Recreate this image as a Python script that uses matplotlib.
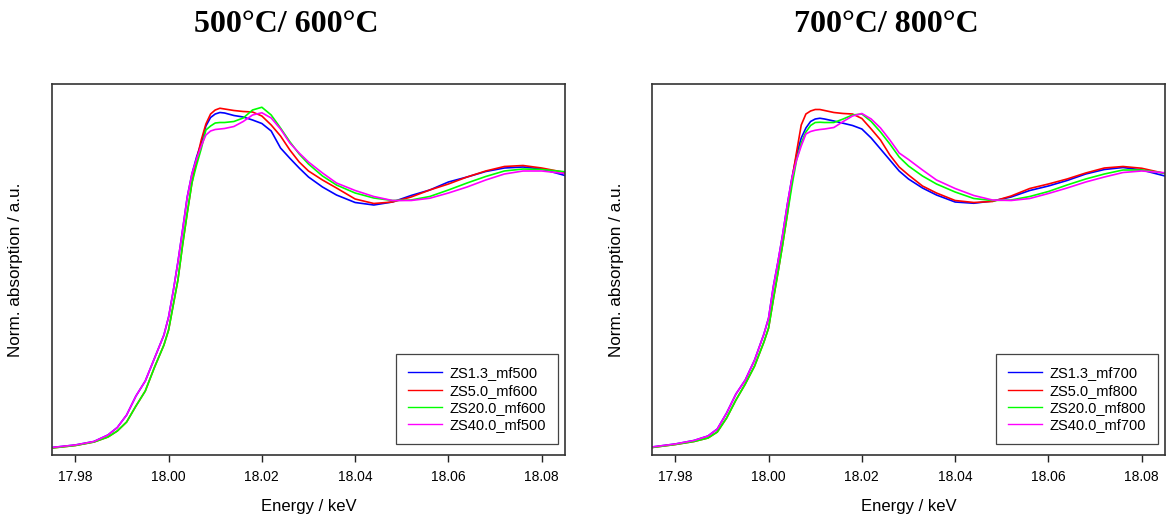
import matplotlib
matplotlib.use("Agg")
import matplotlib.pyplot as plt

plt.rcParams['font.family'] = ['Liberation Sans', 'DejaVu Sans']

energy = [17.975, 17.980, 17.984, 17.987, 17.989, 17.991, 17.993, 17.995, 17.997, 17.999,
          18.000, 18.001, 18.002, 18.003, 18.004, 18.005, 18.006, 18.007, 18.008, 18.009,
          18.010, 18.011, 18.012, 18.014, 18.016, 18.018, 18.020, 18.022, 18.024, 18.026,
          18.028, 18.030, 18.033, 18.036, 18.040, 18.044, 18.048, 18.052, 18.056, 18.060,
          18.064, 18.068, 18.072, 18.076, 18.080, 18.085]

# ---- left panel: 500 C / 600 C ----
zs13_mf500 = [0.000, 0.010, 0.024, 0.050, 0.080, 0.130, 0.206, 0.266, 0.358, 0.450,
              0.522, 0.626, 0.742, 0.870, 1.002, 1.094, 1.162, 1.218,
              1.286, 1.320, 1.334, 1.340, 1.338, 1.328, 1.322, 1.310, 1.296, 1.266,
              1.198, 1.157, 1.118, 1.082, 1.042, 1.010, 0.980, 0.970, 0.982, 1.008,
              1.030, 1.062, 1.082, 1.104, 1.118, 1.122, 1.114, 1.088]
zs50_mf600 = [-0.002, 0.008, 0.022, 0.042, 0.066, 0.102, 0.166, 0.226, 0.322, 0.410,
              0.470, 0.570, 0.670, 0.810, 0.938, 1.058, 1.150, 1.230,
              1.294, 1.334, 1.350, 1.357, 1.354, 1.348, 1.344, 1.342, 1.326, 1.290,
              1.246, 1.190, 1.142, 1.106, 1.070, 1.038, 0.994, 0.976, 0.982, 1.002,
              1.030, 1.054, 1.082, 1.106, 1.124, 1.128, 1.118, 1.100]
zs200_mf600 = [-0.002, 0.008, 0.022, 0.042, 0.066, 0.102, 0.166, 0.226, 0.322, 0.410,
               0.470, 0.570, 0.670, 0.810, 0.938, 1.058, 1.130, 1.195,
               1.270, 1.286, 1.298, 1.300, 1.300, 1.304, 1.318, 1.350, 1.361, 1.330,
               1.278, 1.223, 1.174, 1.134, 1.086, 1.050, 1.018, 0.998, 0.988, 0.990,
               1.004, 1.030, 1.058, 1.084, 1.106, 1.114, 1.112, 1.103]
zs400_mf500 = [0.000, 0.010, 0.024, 0.050, 0.080, 0.130, 0.206, 0.266, 0.358, 0.450,
               0.522, 0.626, 0.742, 0.870, 1.002, 1.094, 1.155, 1.206,
               1.250, 1.266, 1.272, 1.274, 1.276, 1.284, 1.304, 1.330, 1.339, 1.318,
               1.274, 1.218, 1.178, 1.142, 1.098, 1.058, 1.028, 1.004, 0.988, 0.988,
               0.997, 1.018, 1.042, 1.070, 1.094, 1.106, 1.106, 1.096]

# ---- right panel: 700 C / 800 C ----
zs13_mf700 = [0.002, 0.014, 0.028, 0.046, 0.074, 0.138, 0.214, 0.270, 0.350, 0.454,
              0.518, 0.642, 0.742, 0.850, 0.970, 1.078, 1.170, 1.238,
              1.278, 1.304, 1.314, 1.317, 1.314, 1.306, 1.297, 1.288, 1.274, 1.238,
              1.194, 1.150, 1.106, 1.074, 1.038, 1.010, 0.982, 0.977, 0.986, 1.002,
              1.028, 1.046, 1.068, 1.094, 1.112, 1.120, 1.110, 1.086]
zs50_mf800 = [0.000, 0.012, 0.024, 0.038, 0.062, 0.118, 0.190, 0.254, 0.326, 0.422,
              0.478, 0.590, 0.698, 0.810, 0.930, 1.070, 1.182, 1.290,
              1.334, 1.346, 1.352, 1.352, 1.348, 1.340, 1.336, 1.334, 1.316, 1.274,
              1.230, 1.170, 1.122, 1.090, 1.046, 1.018, 0.988, 0.980, 0.984, 1.006,
              1.036, 1.054, 1.074, 1.098, 1.118, 1.124, 1.117, 1.096]
zs200_mf800 = [0.000, 0.012, 0.024, 0.038, 0.062, 0.118, 0.190, 0.254, 0.326, 0.422,
               0.478, 0.590, 0.698, 0.810, 0.930, 1.046, 1.150, 1.218,
               1.262, 1.288, 1.300, 1.301, 1.300, 1.300, 1.314, 1.330, 1.334, 1.304,
               1.262, 1.214, 1.162, 1.126, 1.086, 1.054, 1.022, 0.996, 0.988, 0.990,
               1.004, 1.024, 1.050, 1.074, 1.094, 1.110, 1.110, 1.097]
zs400_mf700 = [0.002, 0.014, 0.028, 0.046, 0.074, 0.138, 0.214, 0.270, 0.350, 0.454,
               0.518, 0.642, 0.742, 0.850, 0.970, 1.078, 1.150, 1.206,
               1.254, 1.264, 1.269, 1.272, 1.274, 1.280, 1.304, 1.326, 1.336, 1.314,
               1.278, 1.230, 1.178, 1.152, 1.110, 1.070, 1.036, 1.008, 0.990, 0.988,
               0.996, 1.016, 1.038, 1.062, 1.082, 1.100, 1.106, 1.099]

titles = ["500°C/ 600°C", "700°C/ 800°C"]
labels_left = ["ZS1.3_mf500", "ZS5.0_mf600", "ZS20.0_mf600", "ZS40.0_mf500"]
labels_right = ["ZS1.3_mf700", "ZS5.0_mf800", "ZS20.0_mf800", "ZS40.0_mf700"]
colors = ["#0000ff", "#ff0000", "#00ff00", "#ff00ff"]
xticks = [17.98, 18.00, 18.02, 18.04, 18.06, 18.08]

panels = [
    (titles[0], labels_left, [zs13_mf500, zs50_mf600, zs200_mf600, zs400_mf500]),
    (titles[1], labels_right, [zs13_mf700, zs50_mf800, zs200_mf800, zs400_mf700]),
]

W, H = 1169, 517
fig = plt.figure(figsize=(W / 100, H / 100), dpi=100)

ax_left_px = [52, 652]
ax_w, ax_top, ax_bot = 513, 84, 455
title_cx = [286, 886]

for i, (title, labels, series) in enumerate(panels):
    ax = fig.add_axes([ax_left_px[i] / W, 1 - ax_bot / H, ax_w / W, (ax_bot - ax_top) / H])
    for y, lab, c in zip(series, labels, colors):
        ax.plot(energy, y, color=c, lw=1.2, label=lab)
    ax.set_xlim(17.975, 18.085)
    ax.set_ylim(-0.03, 1.454)
    ax.set_xticks(xticks)
    ax.set_xticklabels([f"{t:.2f}" for t in xticks], fontsize=10)
    ax.set_yticks([])
    ax.tick_params(axis='x', direction='out', length=5, width=1, pad=6, color='#222222')
    for sp in ax.spines.values():
        sp.set_color('#333333')
        sp.set_linewidth(1.2)
    ax.set_xlabel("Energy / keV", fontsize=12)
    ax.xaxis.set_label_coords(0.5, -(507 - ax_bot) / (ax_bot - ax_top))
    ax.xaxis.label.set_verticalalignment('center')
    ax.set_ylabel("Norm. absorption / a.u.", fontsize=12.3)
    ax.yaxis.set_label_coords(-36 / ax_w, 0.5)
    ax.yaxis.label.set_verticalalignment('center')
    leg = ax.legend(loc='lower right', bbox_to_anchor=(0.9864, 0.0296), borderaxespad=0,
                    fontsize=10.5, fancybox=False, framealpha=1, edgecolor='#444444',
                    handlelength=2.3, handletextpad=0.55, borderpad=0.82, labelspacing=0.22)
    leg.get_frame().set_linewidth(0.9)
    for h in leg.get_lines():
        h.set_linewidth(1.0)
    fig.text(title_cx[i] / W, 1 - 32 / H, title, ha='center', va='baseline',
             fontsize=23, fontweight='bold', family=['Liberation Serif', 'DejaVu Serif'])

fig.savefig("out.png", dpi=100)
